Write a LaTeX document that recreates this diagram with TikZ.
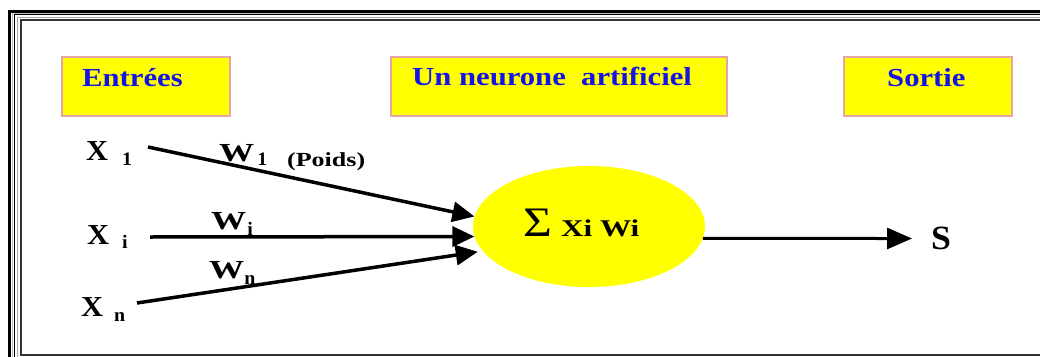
\documentclass[tikz,border=0pt]{standalone}
\usepackage{fontspec}
\setmainfont{Liberation Serif}
\newfontfamily\fA[FakeStretch=1.18]{Liberation Serif}
\newfontfamily\fB[FakeStretch=1.3]{Liberation Serif}
\newfontfamily\fC[FakeStretch=1.05]{Liberation Serif}
\newfontfamily\fW[FakeStretch=1.35]{Liberation Serif}
\usetikzlibrary{arrows.meta,shapes.geometric}
\definecolor{lblue}{RGB}{20,20,230}
\definecolor{pinkb}{RGB}{230,165,165}
\definecolor{yel}{RGB}{255,255,0}
\begin{document}
\begin{tikzpicture}[x=1pt,y=-1pt,
  box/.style={draw=pinkb,line width=2pt,fill=yel,anchor=north west,inner sep=0pt},
  title/.style={anchor=base west,inner sep=0pt,text=lblue,font=\fA\bfseries\fontsize{26}{26}\selectfont},
  lab/.style={anchor=base west,inner sep=0pt,font=\fC\bfseries\fontsize{29}{29}\selectfont},
  wlab/.style={anchor=base west,inner sep=0pt,font=\fW\bfseries\fontsize{26}{26}\selectfont},
  conn/.style={line width=3.5pt,-{Triangle[length=22pt,width=20pt]}},
  connout/.style={line width=3pt,-{Triangle[length=25pt,width=21pt]}}]
\useasboundingbox (0,0) rectangle (1040,356);
\clip (0,0) rectangle (1040,356);
% frame
\draw[black,line width=3pt] (9.5,11) rectangle (1100,400);
\draw[gray!50,line width=1pt] (12.5,13) rectangle (1100,400);
\draw[black,line width=1.5pt] (14.7,14.7) rectangle (1100,380);
\draw[gray!70,line width=1pt] (17.2,17.2) rectangle (1100,370);
\draw[black!80,line width=2pt] (20.5,20) rectangle (1060,354.5);
% header boxes
\node[box,minimum width=168pt,minimum height=59pt] (bin) at (61,56) {};
\node[box,minimum width=336pt,minimum height=59pt] (bneu) at (390,56) {};
\node[box,minimum width=168pt,minimum height=59pt] (bout) at (843,56) {};
\node[title] (tin) at (82,86) {Entrées};
\node[title] (tneu) at (412,85) {Un neurone\ \ artificiel};
\node[title] (tout) at (887,86) {Sortie};
% neuron
\node[ellipse,fill=yel,minimum width=232pt,minimum height=121pt,inner sep=0pt] (neuron) at (589,226.5) {};
\node[anchor=base west,inner sep=0pt] (sum) at (523,236)
  {{\fA\fontsize{42}{42}\selectfont Σ}\hspace{9pt}{\fB\bfseries\fontsize{24}{24}\selectfont Xi Wi}};
% inputs
\node[lab] (x1) at (86,160) {X\hspace{14pt}\raisebox{-5pt}{\fontsize{19}{19}\selectfont 1}};
\node[lab] (xi) at (87,244) {X\hspace{13pt}\raisebox{-4pt}{\fontsize{19}{19}\selectfont i}};
\node[lab] (xn) at (81,316) {X\hspace{11pt}\raisebox{-5pt}{\fontsize{19}{19}\selectfont n}};
% weights
\node[wlab] (w1) at (219,161) {W\hspace{3pt}\raisebox{-4pt}{\fC\fontsize{19}{19}\selectfont 1}};
\node[anchor=base west,inner sep=0pt,font=\fB\bfseries\fontsize{20}{20}\selectfont] (poids) at (287,166) {(Poids)};
\node[wlab] (wi) at (211,229) {W\hspace{1pt}\raisebox{-6pt}{\fC\fontsize{19}{19}\selectfont i}};
\node[wlab] (wn) at (209,278) {W\raisebox{-6pt}{\fC\fontsize{19}{19}\selectfont n}};
% output
\node[anchor=base west,inner sep=0pt,font=\fC\bfseries\fontsize{34}{34}\selectfont] (s) at (931,249) {S};
% connectors
\coordinate (s1) at (148,147);
\coordinate (si) at (150,237);
\coordinate (sn) at (137,303);
\coordinate (sout) at (912,238.5);
\draw[conn] (s1) -- (neuron.175);
\draw[conn] (si) -- (neuron.185);
\draw[conn,shorten >=5pt] (sn) -- (neuron.193);
\draw[connout] (neuron.-6) -- (sout);
\end{tikzpicture}
\end{document}
